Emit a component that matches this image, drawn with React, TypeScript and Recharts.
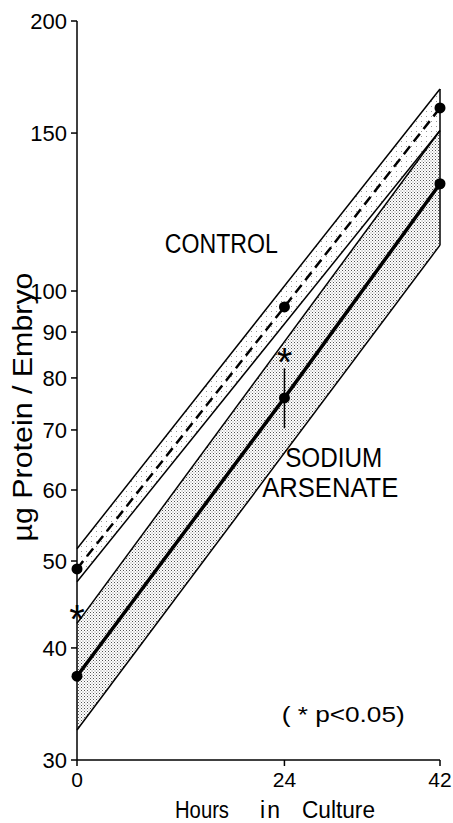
import React from 'react';
import {
  ComposedChart,
  Line,
  Area,
  XAxis,
  YAxis,
  ReferenceLine,
  ReferenceDot,
  Label,
} from 'recharts';

// ---- data ----
const hours = [0, 24, 42];
const controlMean = [49, 96, 160];
const arsenateMean = [37.2, 76, 131.7];

const bandHours = [0, 42];
const controlBandLow = [47.4, 151];
const controlBandHigh = [51.6, 168];
const arsenateBandLow = [32.4, 112.5];
const arsenateBandHigh = [42.6, 151];

const errorBarHour = 24;
const errorBarLow = 70.3;
const errorBarHigh = 82;

const yTicks = [30, 40, 50, 60, 70, 80, 90, 100, 150, 200];
const xTicks = [0, 24, 42];

const meanRows = hours.map((h, i) => ({
  h,
  control: controlMean[i],
  arsenate: arsenateMean[i],
}));

const bandRows = bandHours.map((h, i) => ({
  h,
  cBand: [controlBandLow[i], controlBandHigh[i]],
  aBand: [arsenateBandLow[i], arsenateBandHigh[i]],
}));

const FONT = '"Liberation Sans", Arial, sans-serif';

const textShape = (txt: string, size: number, len?: number) => (p: any) => (
  <text
    x={p.cx}
    y={p.cy}
    textAnchor="middle"
    fontFamily={FONT}
    fontSize={size}
    fill="#000"
    {...(len ? { textLength: len, lengthAdjust: 'spacingAndGlyphs' } : {})}
  >
    {txt}
  </text>
);

const starShape = (p: any) => (
  <text
    x={p.cx}
    y={p.cy + 23}
    textAnchor="middle"
    fontFamily={FONT}
    fontSize={40}
    fill="#000"
  >
    *
  </text>
);

const YLabel = () => (
  <text
    x={32}
    y={407}
    transform="rotate(-90, 32, 407)"
    textAnchor="middle"
    fontFamily={FONT}
    fontSize={27}
    fill="#000"
    textLength={269}
    lengthAdjust="spacingAndGlyphs"
  >
    µg Protein / Embryo
  </text>
);

const XLabel = () => (
  <g fontFamily={FONT} fontSize={23} fill="#000">
    <text x={175} y={818} textLength={54} lengthAdjust="spacingAndGlyphs">Hours</text>
    <text x={271} y={818} textAnchor="middle" letterSpacing={2}>in</text>
    <text x={302} y={818} textLength={73} lengthAdjust="spacingAndGlyphs">Culture</text>
  </g>
);

export default function App() {
  return (
    <div style={{ position: 'absolute', left: 0, top: 0, background: '#fff' }}>
      <ComposedChart
        width={453}
        height={823}
        data={meanRows}
        margin={{ top: 21, right: 13, left: 0, bottom: 33 }}
      >
        <defs>
          <pattern id="stippleA" width="3" height="3" patternUnits="userSpaceOnUse">
            <rect x="0" y="0" width="1" height="1" fill="#555" />
            <rect x="1.5" y="1.5" width="1" height="1" fill="#888" />
          </pattern>
          <pattern id="stippleC" width="5" height="5" patternUnits="userSpaceOnUse">
            <rect x="1" y="1" width="1" height="1" fill="#999" />
          </pattern>
        </defs>
        <XAxis
          dataKey="h"
          type="number"
          domain={[0, 42]}
          ticks={xTicks}
          height={30}
          stroke="#000"
          strokeWidth={1.5}
          tickSize={6}
          tickMargin={6}
          tick={{ fill: '#000', fontSize: 21, fontFamily: FONT }}
          label={<Label content={<XLabel />} />}
        />
        <YAxis
          type="number"
          scale="log"
          domain={[30, 200]}
          ticks={yTicks}
          allowDataOverflow
          width={77}
          stroke="#000"
          strokeWidth={1.5}
          tickSize={6}
          tickMargin={4}
          interval={0}
          tick={{ fill: '#000', fontSize: 22, fontFamily: FONT }}
          label={<Label content={<YLabel />} />}
        />
        <Area
          data={bandRows}
          dataKey="aBand"
          type="linear"
          stroke="#000"
          strokeWidth={1.5}
          fill="url(#stippleA)"
          fillOpacity={1}
          isAnimationActive={false}
          activeDot={false}
        />
        <Area
          data={bandRows}
          dataKey="cBand"
          type="linear"
          stroke="#000"
          strokeWidth={1.5}
          fill="url(#stippleC)"
          fillOpacity={1}
          isAnimationActive={false}
          activeDot={false}
        />
        <ReferenceLine
          segment={[
            { x: 42, y: arsenateBandLow[1] },
            { x: 42, y: controlBandHigh[1] },
          ]}
          stroke="#000"
          strokeWidth={1.5}
        />
        <ReferenceLine
          segment={[
            { x: errorBarHour, y: errorBarLow },
            { x: errorBarHour, y: errorBarHigh },
          ]}
          stroke="#000"
          strokeWidth={1.5}
        />
        <Line
          dataKey="control"
          type="linear"
          stroke="#000"
          strokeWidth={2.5}
          strokeDasharray="10 6"
          dot={{ r: 5.5, fill: '#000', stroke: '#000', strokeWidth: 0 }}
          isAnimationActive={false}
          activeDot={false}
        />
        <Line
          dataKey="arsenate"
          type="linear"
          stroke="#000"
          strokeWidth={3.5}
          dot={{ r: 5.5, fill: '#000', stroke: '#000', strokeWidth: 0 }}
          isAnimationActive={false}
          activeDot={false}
        />
        <ReferenceDot x={0} y={44.1} r={0} shape={starShape} ifOverflow="visible" />
        <ReferenceDot x={24} y={85.3} r={0} shape={starShape} ifOverflow="visible" />
        <ReferenceDot x={16.7} y={110.2} r={0} shape={textShape('CONTROL', 27, 113)} />
        <ReferenceDot x={29.7} y={63.6} r={0} shape={textShape('SODIUM', 27, 97)} />
        <ReferenceDot x={29.3} y={58.9} r={0} shape={textShape('ARSENATE', 27, 136)} />
        <ReferenceDot x={30.8} y={33.1} r={0} shape={textShape('( * p<0.05)', 22, 123)} />
      </ComposedChart>
    </div>
  );
}
